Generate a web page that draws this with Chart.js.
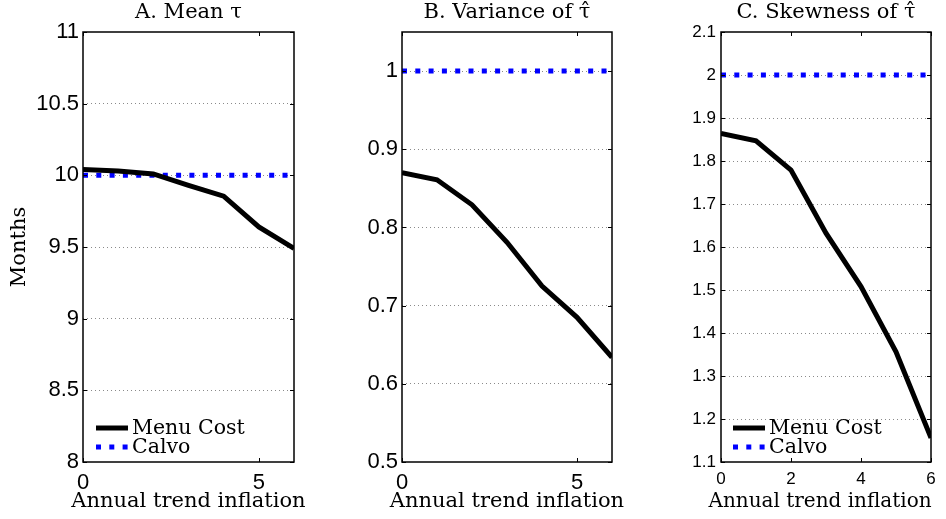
<!DOCTYPE html>
<html>
<head>
<meta charset="utf-8">
<script src="https://cdn.jsdelivr.net/npm/chart.js@4"></script>
<style>
  html, body { margin: 0; padding: 0; background: #fff; }
  body { width: 946px; height: 519px; position: relative; overflow: hidden; }
  .panel { position: absolute; top: 0; height: 519px; width: 310px; }
</style>
</head>
<body>
<div class="panel" style="left:0"><canvas id="chart-a"></canvas></div>
<div class="panel" style="left:320px"><canvas id="chart-b"></canvas></div>
<div class="panel" style="left:636px"><canvas id="chart-c"></canvas></div>
<script>
const inflation  = [0, 1, 2, 3, 4, 5, 6];

const meanMenu   = [10.04, 10.03, 10.01, 9.93, 9.855, 9.64, 9.49];
const meanCalvo  = [10, 10, 10, 10, 10, 10, 10];
const varMenu    = [0.87, 0.861, 0.829, 0.781, 0.725, 0.685, 0.634];
const varCalvo   = [1, 1, 1, 1, 1, 1, 1];
const skewMenu   = [1.864, 1.847, 1.779, 1.632, 1.508, 1.356, 1.156];
const skewCalvo  = [2, 2, 2, 2, 2, 2, 2];

const yTicksA = [8, 8.5, 9, 9.5, 10, 10.5, 11];
const yTicksB = [0.5, 0.6, 0.7, 0.8, 0.9, 1];
const yTicksC = [1.1, 1.2, 1.3, 1.4, 1.5, 1.6, 1.7, 1.8, 1.9, 2, 2.1];
const xTicksAB = [0, 5];
const xTicksC  = [0, 2, 4, 6];

const X_TITLE = 'Annual trend inflation';

const SERIF = "'DejaVu Serif', serif";
const SANS  = "'Liberation Sans', Arial, sans-serif";
const BLUE  = '#0000ff';

const pts = (ys) => inflation.map((x, i) => ({ x, y: ys[i] }));

// box round the plot area, inward tick marks, x title (wider than the plot,
// so Chart.js would squeeze it), legend in the lower left
const frame = {
  id: 'frame',
  afterDraw(chart, args, opts) {
    const { ctx, chartArea: a, scales } = chart;
    ctx.save();
    ctx.strokeStyle = '#000';
    ctx.lineWidth = 1;
    const t = 4;
    ctx.beginPath();
    scales.y.ticks.forEach(tk => {
      const py = Math.round(scales.y.getPixelForValue(tk.value)) + 0.5;
      ctx.moveTo(a.left, py); ctx.lineTo(a.left + t, py);
      ctx.moveTo(a.right, py); ctx.lineTo(a.right - t, py);
    });
    scales.x.ticks.forEach(tk => {
      const px = Math.round(scales.x.getPixelForValue(tk.value)) + 0.5;
      ctx.moveTo(px, a.bottom); ctx.lineTo(px, a.bottom - t);
      ctx.moveTo(px, a.top); ctx.lineTo(px, a.top + t);
    });
    ctx.stroke();
    ctx.lineWidth = 1.5;
    ctx.strokeRect(a.left, a.top, a.right - a.left, a.bottom - a.top);

    ctx.fillStyle = '#000';
    ctx.font = opts.xTitleSize + 'px ' + SERIF;
    ctx.textAlign = 'center';
    ctx.textBaseline = 'middle';
    ctx.fillText(opts.xTitle, (a.left + a.right) / 2 + opts.xTitleShift, 502);
    ctx.textAlign = 'left';

    if (opts.legend) {
      const rows = [a.bottom - 34, a.bottom - 15];
      chart.data.datasets.forEach((ds, i) => {
        const y = rows[i];
        ctx.beginPath();
        ctx.strokeStyle = ds.borderColor;
        ctx.lineWidth = ds.borderWidth;
        ctx.setLineDash(ds.borderDash || []);
        ctx.moveTo(a.left + opts.legend.x, y);
        ctx.lineTo(a.left + opts.legend.x + 32, y);
        ctx.stroke();
        ctx.setLineDash([]);
        ctx.fillStyle = '#000';
        ctx.font = '20.5px ' + SERIF;
        ctx.textBaseline = 'middle';
        ctx.fillText(ds.label, a.left + opts.legend.x + 36, y + 1);
      });
    }
    ctx.restore();
  }
};

function makePanel(id, cfg) {
  const el = document.getElementById(id);
  return new Chart(el, {
    type: 'line',
    data: {
      datasets: [
        {
          label: 'Menu Cost',
          data: pts(cfg.menu),
          borderColor: '#000',
          borderWidth: 5,
          pointRadius: 0,
          tension: 0,
        },
        {
          label: 'Calvo',
          data: pts(cfg.calvo),
          borderColor: BLUE,
          borderWidth: 5,
          borderDash: [5, 8.3],
          borderCapStyle: 'butt',
          pointRadius: 0,
          tension: 0,
        }
      ]
    },
    options: {
      responsive: true,
      maintainAspectRatio: false,
      animation: false,
      layout: { padding: { left: 0, right: cfg.padRight, top: 0, bottom: 0 } },
      plugins: {
        legend: { display: false },
        tooltip: { enabled: false },
        title: {
          display: true,
          fullSize: false,
          text: cfg.title,
          color: '#000',
          font: { family: SERIF, size: 21, weight: 'normal' },
          padding: { top: 0, bottom: 6.8 },
        },
        frame: {
          legend: cfg.legend,
          xTitle: X_TITLE,
          xTitleSize: cfg.xTitleSize || 21,
          xTitleShift: cfg.xTitleShift || 0,
        },
      },
      scales: {
        x: {
          type: 'linear',
          min: 0,
          max: 6,
          afterBuildTicks: s => { s.ticks = cfg.xTicks.map(v => ({ value: v })); },
          afterFit: s => { s.height = 57; },
          grid: { display: false, drawTicks: false },
          border: { display: false },
          ticks: {
            color: '#000',
            padding: cfg.xPad,
            maxRotation: 0,
            font: { family: SANS, size: cfg.tickSize },
            callback: v => String(v),
          },
          title: { display: false }
        },
        y: {
          min: cfg.yMin,
          max: cfg.yMax,
          afterBuildTicks: s => { s.ticks = cfg.yTicks.map(v => ({ value: v })); },
          afterFit: s => { s.width = cfg.yWidth; },
          grid: {
            drawTicks: false,
            lineWidth: 1,
            color: c => (c.tick && (c.tick.value === cfg.yMin || c.tick.value === cfg.yMax)) ? 'rgba(0,0,0,0)' : '#8a8a8a',
          },
          border: { display: false, dash: [1, 3] },
          ticks: {
            color: '#000',
            padding: cfg.yPad,
            font: { family: SANS, size: cfg.tickSize },
            callback: v => String(v),
          },
          title: {
            display: !!cfg.yTitle,
            text: cfg.yTitle || '',
            color: '#000',
            font: { family: SERIF, size: 21 },
            padding: { top: 7.4, bottom: 0 },
          }
        }
      }
    },
    plugins: [frame]
  });
}

makePanel('chart-a', {
  title: 'A. Mean \u03c4',
  menu: meanMenu, calvo: meanCalvo,
  yMin: 8, yMax: 11, yTicks: yTicksA, xTicks: xTicksAB,
  yWidth: 83, padRight: 16, tickSize: 22, xPad: 8, yPad: 4, yTitle: 'Months',
  legend: { x: 13 },
});

makePanel('chart-b', {
  title: 'B. Variance of \u03c4\u0302',
  menu: varMenu, calvo: varCalvo,
  yMin: 0.5, yMax: 1.05, yTicks: yTicksB, xTicks: xTicksAB,
  yWidth: 82, padRight: 18, tickSize: 22, xPad: 8, yPad: 4,
});

makePanel('chart-c', {
  title: 'C. Skewness of \u03c4\u0302',
  menu: skewMenu, calvo: skewCalvo,
  yMin: 1.1, yMax: 2.1, yTicks: yTicksC, xTicks: xTicksC,
  yWidth: 85, padRight: 15, tickSize: 17, xPad: 7.5, yPad: 5,
  xTitleSize: 20, xTitleShift: -6,
  legend: { x: 12 },
});
</script>
</body>
</html>
